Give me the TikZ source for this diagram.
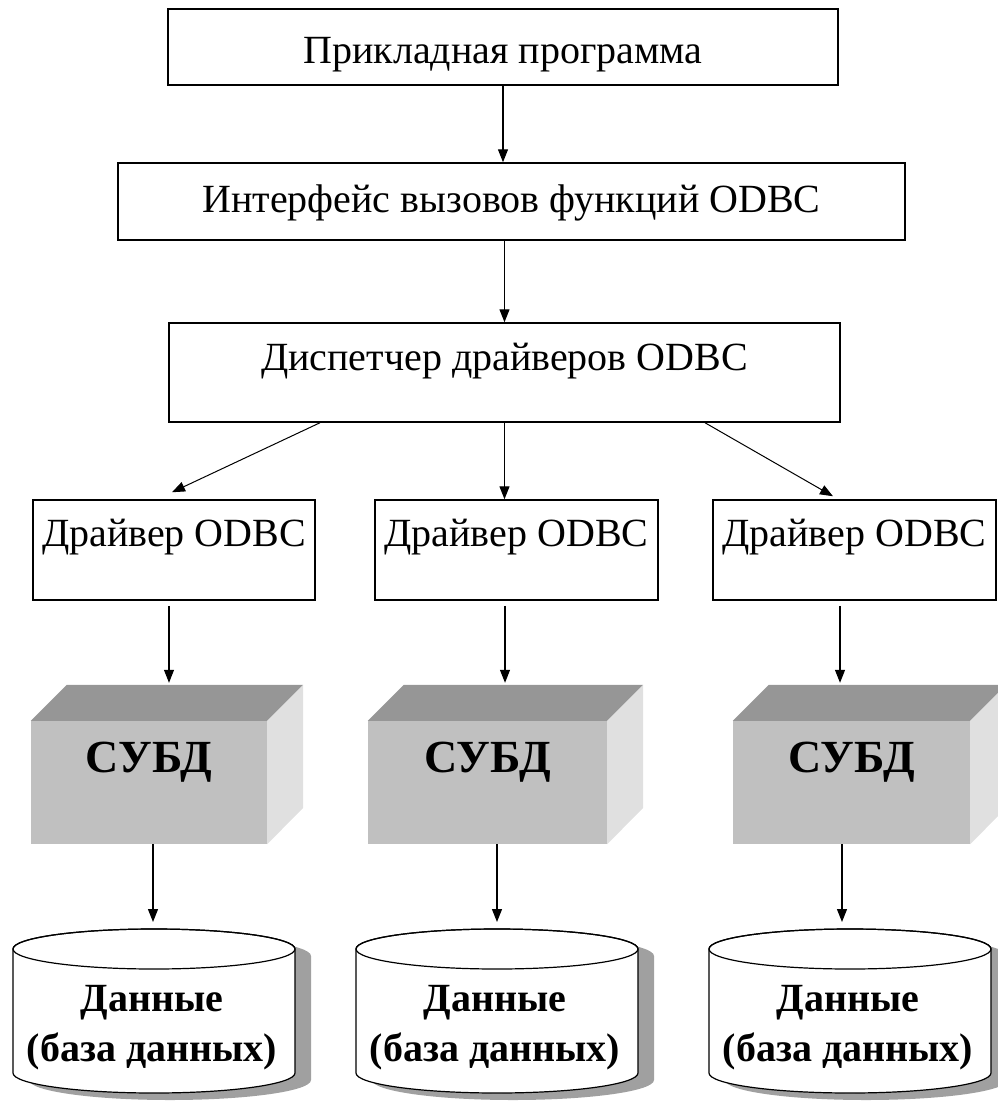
\documentclass[tikz,border=0pt]{standalone}
\usepackage{fontspec}
\setmainfont{Liberation Serif}
\usetikzlibrary{arrows.meta}

\definecolor{cubetop}{HTML}{969696}
\definecolor{cubefront}{HTML}{C0C0C0}
\definecolor{cubeside}{HTML}{E0E0E0}
\definecolor{dbshadow}{HTML}{A0A0A0}

% database cylinder round the centre of its top ellipse
\newcommand{\dbshape}[1]{%
  \fill[dbshadow] ([shift={(16,7)}]#1) ++(-141,0) -- ++(0,124)
    arc[start angle=180, end angle=360, x radius=141pt, y radius=20pt] -- ++(0,-124)
    arc[start angle=0, end angle=180, x radius=141pt, y radius=20pt] -- cycle;
  \draw[fill=white, line width=1.2pt] (#1) ++(-141,0) -- ++(0,124)
    arc[start angle=180, end angle=360, x radius=141pt, y radius=20pt] -- ++(0,-124)
    arc[start angle=0, end angle=180, x radius=141pt, y radius=20pt] -- cycle;
  \draw[line width=1.2pt] (#1) ellipse [x radius=141pt, y radius=20pt];}

\begin{document}
\begin{tikzpicture}[x=1pt, y=-1pt,
  box/.style={rectangle, draw, line width=1.5pt, inner sep=0pt, text height=26.5pt,
    font=\fontsize{40}{48}\selectfont},
  subd/.style={rectangle, fill=cubefront, inner sep=0pt, minimum height=123pt,
    text height=30pt, text depth=50pt, font=\fontsize{46}{54}\selectfont\bfseries},
  dbtext/.style={anchor=north, inner sep=0pt, align=center,
    font=\fontsize{40}{50}\selectfont\bfseries},
  arr/.style={-{Triangle[length=13pt, width=10pt]}, line width=1.2pt}]
\useasboundingbox (0,0) rectangle (998,1104);

% upper levels
\node (app) [box, minimum width=670pt, minimum height=76pt, text height=32pt, text depth=0pt] at (503,47) {Прикладная программа};
\node (iface) [box, minimum width=787pt, minimum height=77pt, text depth=5pt] at (511.5,201.5) {Интерфейс вызовов функций ODBC};
\node (disp) [box, minimum width=671pt, minimum height=99pt, text depth=31pt] at (504.5,372.5) {Диспетчер драйверов ODBC};

% drivers
\node (drv1) [box, minimum width=282pt, minimum height=100pt, text depth=34pt] at (174,550) {Драйвер ODBC};
\node (drv2) [box, minimum width=283pt, minimum height=100pt, text depth=34pt] at (516.5,550) {Драйвер ODBC};
\node (drv3) [box, minimum width=283pt, minimum height=100pt, text depth=34pt] at (854.5,550) {Драйвер ODBC};

% DBMS
\node (subd1) [subd, minimum width=236pt] at (149,782.5) {СУБД};
\fill[cubetop] (subd1.north west) -- ++(36,-36) -- ([shift={(36,-36)}]subd1.north east) -- (subd1.north east) -- cycle;
\fill[cubeside] (subd1.north east) -- ++(36,-36) -- ++(0,123) -- (subd1.south east) -- cycle;
\node (subd2) [subd, minimum width=239pt] at (487.5,782.5) {СУБД};
\fill[cubetop] (subd2.north west) -- ++(36,-36) -- ([shift={(36,-36)}]subd2.north east) -- (subd2.north east) -- cycle;
\fill[cubeside] (subd2.north east) -- ++(36,-36) -- ++(0,123) -- (subd2.south east) -- cycle;
\node (subd3) [subd, minimum width=237pt] at (851.5,782.5) {СУБД};
\fill[cubetop] (subd3.north west) -- ++(36,-36) -- ([shift={(36,-36)}]subd3.north east) -- (subd3.north east) -- cycle;
\fill[cubeside] (subd3.north east) -- ++(36,-36) -- ++(0,123) -- (subd3.south east) -- cycle;

% databases
\coordinate (cyl1) at (154,949);
\coordinate (cyl2) at (497,949);
\coordinate (cyl3) at (850,949);
\dbshape{cyl1}
\dbshape{cyl2}
\dbshape{cyl3}
\node (db1) [dbtext] at (152,985.5) {Данные\\(база данных)};
\node (db2) [dbtext] at (495,985.5) {Данные\\(база данных)};
\node (db3) [dbtext] at (848,985.5) {Данные\\(база данных)};

% arrows
\draw[arr] (app.south) -- (app.south |- iface.north);
\draw[arr] (iface.south -| disp.north) -- (disp.north);
\draw[arr] (disp.south) -- (disp.south |- drv2.north);
\draw[arr, line width=1pt] ([xshift=-184.5pt]disp.south) -- ([shift={(-2pt,7pt)}]drv1.north);
\draw[arr, line width=1pt] ([xshift=200.5pt]disp.south) -- ([shift={(-21.5pt,3pt)}]drv3.north);

\draw[arr, shorten <=5pt, shorten >=38pt] ([xshift=-5pt]drv1.south) -- ([xshift=-5pt]drv1.south |- subd1.north);
\draw[arr, shorten <=5pt, shorten >=38pt] ([xshift=-11.5pt]drv2.south) -- ([xshift=-11.5pt]drv2.south |- subd2.north);
\draw[arr, shorten <=5pt, shorten >=38pt] ([xshift=-14.5pt]drv3.south) -- ([xshift=-14.5pt]drv3.south |- subd3.north);

\draw[arr, shorten >=27pt] ([xshift=4pt]subd1.south) -- ([xshift=4pt]subd1.south |- cyl1);
\draw[arr, shorten >=27pt] ([xshift=9.5pt]subd2.south) -- ([xshift=9.5pt]subd2.south |- cyl2);
\draw[arr, shorten >=27pt] ([xshift=-9.5pt]subd3.south) -- ([xshift=-9.5pt]subd3.south |- cyl3);
\end{tikzpicture}
\end{document}
